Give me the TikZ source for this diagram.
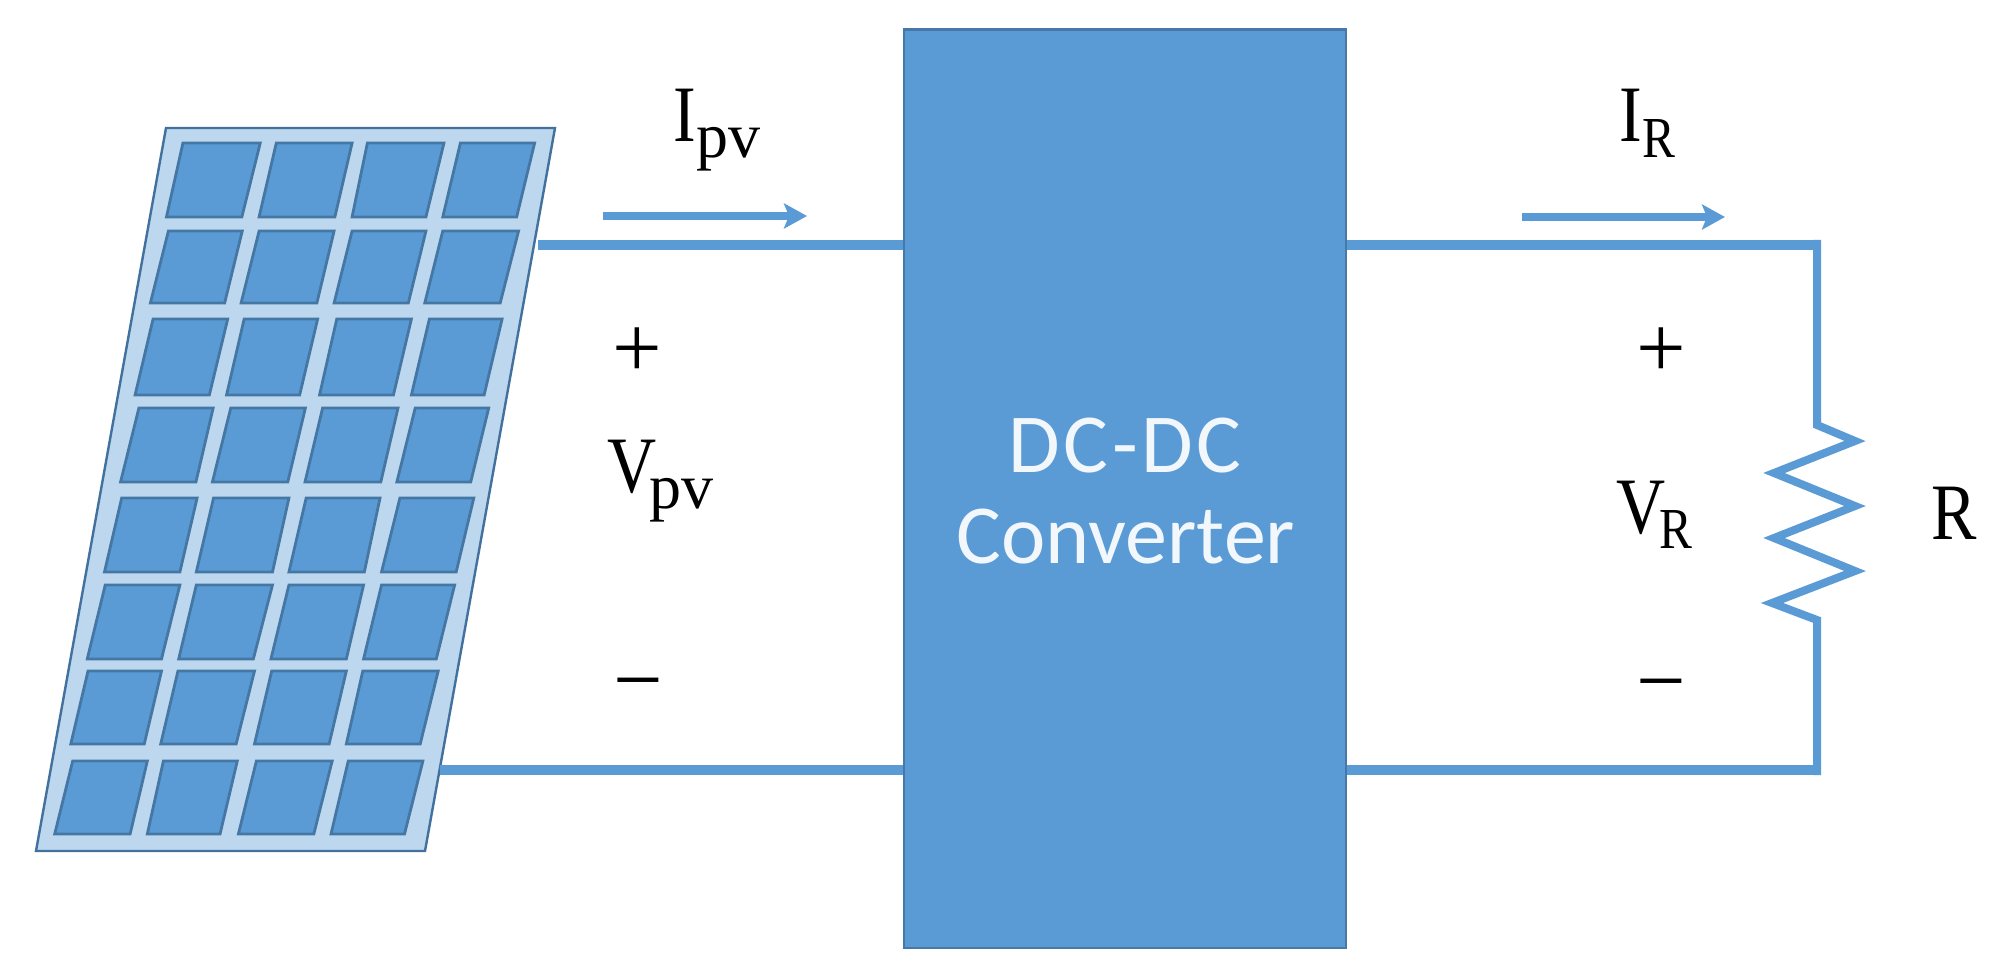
\documentclass[tikz,border=0pt]{standalone}
\usepackage{fontspec}
\setmainfont{Liberation Serif}
\newfontfamily\labelfont[FakeStretch=0.85]{Liberation Serif}
\newfontfamily\boxfont{Carlito}
\usetikzlibrary{arrows.meta}
\definecolor{cellblue}{HTML}{5B9BD5}
\definecolor{edgeblue}{HTML}{41719C}
\definecolor{panelblue}{HTML}{BDD7EE}
\newcommand{\lab}[3]{{\labelfont\fontsize{40}{40}\selectfont #1\kern#3\raisebox{-7.8pt}{\fontsize{29}{29}\selectfont #2}}}
\newcommand{\labpv}[2]{{\labelfont\fontsize{40}{40}\selectfont #1\kern#2\raisebox{-7.8pt}{\rmfamily\fontsize{32}{32}\selectfont pv}}}
\newcommand{\cellrow}[3]{%
  \foreach \ta/\tb/\ba/\bb in {#3}{%
    \draw[solarcell] ({\ta/2.613},#1) -- ({\tb/2.613},#1) -- ({\bb/2.613},#2) -- ({\ba/2.613},#2) -- cycle;
  }}
\tikzset{
  solarcell/.style={fill=cellblue,draw=edgeblue!85!cellblue,line width=1.4pt,line join=miter},
  wire/.style={draw=cellblue,line width=5.2pt,line join=miter},
  thinwire/.style={draw=cellblue,line width=4pt,line join=miter},
  current/.style={draw=cellblue,line width=4pt,-{Stealth[length=11.5pt,width=12.5pt,inset=2.5pt]}},
  txt/.style={inner sep=0pt,anchor=base west},
  sign/.style={inner sep=0pt,anchor=center,font=\fontsize{44}{44}\selectfont}
}
\begin{document}
\begin{tikzpicture}[x=0.5pt,y=-0.5pt]
\useasboundingbox[fill=white] (0,0) rectangle (2014,978);
% solar panel
\draw[fill=panelblue,draw=edgeblue,line width=1.2pt] (166,128) -- (555,128) -- (425,851) -- (36,851) -- cycle;
\cellrow{143}{217}{478/680/435/632, 722/920/677/875, 960/1160/920/1113, 1203/1397/1157/1350}
\cellrow{231}{303}{440/633/393/587, 677/873/630/828, 920/1113/873/1067, 1157/1355/1110/1307}
\cellrow{319}{395}{400/595/353/547, 638/830/592/783, 880/1075/835/1028, 1122/1312/1075/1265}
\cellrow{408}{482}{363/557/315/512, 603/798/555/752, 843/1040/797/995, 1085/1277/1037/1230}
\cellrow{498}{572}{318/515/273/470, 558/755/513/712, 800/993/755/952, 1045/1238/997/1192}
\cellrow{585}{659}{275/470/228/422, 513/712/467/662, 755/950/708/905, 997/1188/950/1140}
\cellrow{671}{744}{230/422/185/377, 465/665/420/617, 710/905/665/860, 948/1145/905/1098}
\cellrow{761}{834}{190/385/143/340, 427/620/385/575, 670/868/623/820, 910/1105/865/1057}
% converter
\coordinate (pvtop) at (538,245);
\coordinate (pvbot) at (440,770);
\coordinate (rtop) at (1821,245);
\coordinate (rbot) at (1821,770);
\coordinate (ctop) at (1817,240);
\coordinate (cbot) at (1817,775);
\node[name=conv,rectangle,anchor=north west,inner sep=0pt,minimum width=221pt,minimum height=459pt,
      fill=cellblue,draw=edgeblue!80!cellblue,line width=1.2pt] at (902.5,28.5) {};
\node[name=dc,inner sep=0pt,anchor=base,text=white!92!cellblue,font=\boxfont\fontsize{42}{42}\selectfont\addfontfeature{LetterSpace=4}] at (1125,473) {DC-DC};
\node[name=cv,inner sep=0pt,anchor=base,text=white!92!cellblue,font=\boxfont\fontsize{42}{42}\selectfont] at (1126,563) {Converter};
% wires
\draw[wire] (pvtop) -- (pvtop -| conv.west);
\draw[wire] (pvbot) -- (pvbot -| conv.west);
\coordinate (z0) at (1817,425);
\coordinate (z1) at (1855,441);
\coordinate (z2) at (1774,473);
\coordinate (z3) at (1855,506);
\coordinate (z4) at (1774,538);
\coordinate (z5) at (1855,571);
\coordinate (z6) at (1772,603);
\coordinate (z7) at (1817,620);
\draw[wire] (rtop -| conv.east) -- (rtop);
\draw[wire] (rbot -| conv.east) -- (rbot);
\draw[thinwire] (ctop) -- (z0) -- (z1) -- (z2) -- (z3) -- (z4) -- (z5) -- (z6) -- (z7) -- (cbot);
% current arrows
\coordinate (ipva) at (603,216);
\coordinate (ipvb) at (807,216);
\coordinate (ira) at (1522,217);
\coordinate (irb) at (1725,217);
\draw[current] (ipva) -- (ipvb);
\draw[current] (ira) -- (irb);
% labels
\node[name=ipv,txt] at (673,142) {\labpv{I}{0pt}};
\node[name=vpv,txt] at (607,493) {\labpv{V}{-3.5pt}};
\node[name=ir,txt] at (1619,142) {\lab{I}{R}{0pt}};
\node[name=vr,txt] at (1616,533) {\lab{V}{R}{-3pt}};
\node[name=rl,txt] at (1931,539) {\labelfont\fontsize{40}{40}\selectfont R};
\node[name=pl,sign] at (637.5,353) {+};
\node[name=ml,sign] at (638,694) {−};
\node[name=pr,sign] at (1661,353) {+};
\node[name=mr,sign] at (1661,695) {−};
\end{tikzpicture}
\end{document}
